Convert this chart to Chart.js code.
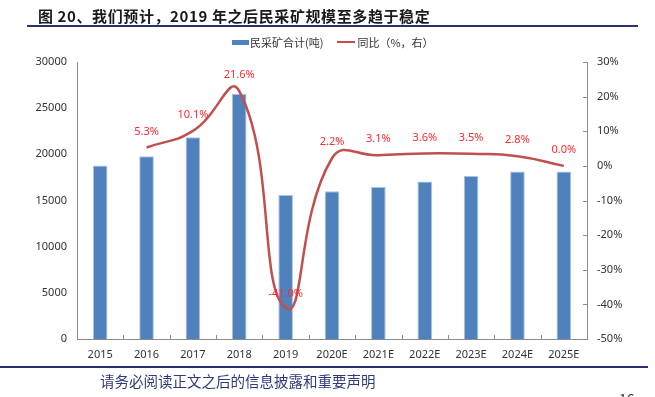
<!DOCTYPE html>
<html>
<head>
<meta charset="utf-8">
<script src="https://cdn.jsdelivr.net/npm/chart.js@4.4.1/dist/chart.umd.min.js"></script>
<style>
  body { margin: 0; background: #fff; }
  #lienzo { position: relative; width: 655px; height: 397px; overflow: hidden; font-family: "Noto Sans CJK SC", "Noto Sans", sans-serif; }
  #grafico { position: absolute; left: 0; top: 0; }
  .titulo { position: absolute; left: 38px; top: 8px; font-size: 15px; line-height: 16px; font-weight: bold; color: #1a1a1a; white-space: nowrap; letter-spacing: 0.6px; }
  .raya-titulo { position: absolute; left: 27px; top: 25px; width: 611px; height: 1.5px; background: #2a3170; }
  .leyenda { position: absolute; left: 232px; top: 34px; font-size: 11px; line-height: 12px; color: #333; white-space: nowrap; }
  .leyenda span { display: inline-block; vertical-align: middle; }
  .caja { width: 17px; height: 5px; background: #4f81bd; margin-right: 1px; }
  .linea { width: 18px; height: 2px; background: #c0504d; margin-left: 14px; margin-right: 2px; }
  .raya-pie { position: absolute; left: 0; top: 366px; width: 648px; height: 2px; background: #2a3170; }
  .pie { position: absolute; left: 100px; top: 373px; font-size: 14.5px; line-height: 16px; color: #2e3a7c; white-space: nowrap; }
  .pagina { position: absolute; left: 619px; top: 390px; font-size: 14px; line-height: 16px; color: #333; }
</style>
</head>
<body>
<div id="lienzo">
  <canvas id="grafico" width="655" height="397"></canvas>
  <div class="titulo">图 20、我们预计，2019 年之后民采矿规模至多趋于稳定</div>
  <div class="raya-titulo"></div>
  <div class="leyenda"><span class="caja"></span><span>民采矿合计(吨)</span><span class="linea"></span><span>同比（%，右）</span></div>
  <div class="raya-pie"></div>
  <div class="pie">请务必阅读正文之后的信息披露和重要声明</div>
  <div class="pagina">16</div>
</div>
<script>
var categorias = ["2015", "2016", "2017", "2018", "2019", "2020E", "2021E", "2022E", "2023E", "2024E", "2025E"];
var toneladas = [18800, 19800, 21850, 26550, 15600, 16000, 16450, 17050, 17650, 18150, 18150];
var tasas = [null, 5.3, 10.1, 21.6, -41.0, 2.2, 3.1, 3.6, 3.5, 2.8, 0.0];

// marcas pequeñas hacia dentro en el eje derecho y en el eje x
var marcasPlugin = {
    id: "marcas",
    afterDraw: function (chart) {
        var ctx = chart.ctx;
        var area = chart.chartArea;
        var y1 = chart.scales.y1;
        var x = chart.scales.x;
        ctx.save();
        ctx.strokeStyle = "#8c8c8c";
        ctx.lineWidth = 1;
        ctx.beginPath();
        y1.ticks.forEach(function (t) {
            var py = Math.round(y1.getPixelForValue(t.value)) + 0.5;
            ctx.moveTo(area.right - 4, py);
            ctx.lineTo(area.right, py);
        });
        for (var i = 1; i < categorias.length; i++) {
            var px = Math.round((x.getPixelForValue(i - 1) + x.getPixelForValue(i)) / 2) + 0.5;
            ctx.moveTo(px, area.bottom);
            ctx.lineTo(px, area.bottom - 4);
        }
        ctx.stroke();
        ctx.restore();
    }
};

// etiquetas rojas sobre la línea
var etiquetasPlugin = {
    id: "etiquetas",
    afterDatasetsDraw: function (chart) {
        var ctx = chart.ctx;
        var meta = chart.getDatasetMeta(0);
        ctx.save();
        ctx.font = "11px 'Noto Sans', sans-serif";
        ctx.fillStyle = "#ff2b2b";
        ctx.textAlign = "center";
        ctx.textBaseline = "middle";
        meta.data.forEach(function (p, i) {
            if (tasas[i] === null) return;
            var dy = tasas[i] < 0 ? 14 : 16;
            ctx.fillText(tasas[i].toFixed(1) + "%", p.x, p.y - dy);
        });
        ctx.restore();
    }
};

var ctx = document.getElementById("grafico").getContext("2d");
var tickFont = { family: "'Noto Sans', sans-serif", size: 11 };

var myChart = new Chart(ctx, {
    data: {
        labels: categorias,
        datasets: [
            {
                type: "line",
                label: "同比（%，右）",
                data: tasas,
                yAxisID: "y1",
                borderColor: "#c0504d",
                borderWidth: 2.5,
                pointRadius: 0,
                tension: 0.5,
                fill: false,
                order: 0
            },
            {
                type: "bar",
                label: "民采矿合计(吨)",
                data: toneladas,
                yAxisID: "y",
                backgroundColor: "#4f81bd",
                borderColor: "#a9c2e2",
                borderWidth: 1,
                categoryPercentage: 1,
                barPercentage: 0.315,
                order: 1
            }
        ]
    },
    options: {
        responsive: false,
        animation: false,
        layout: { padding: { top: 62, left: 0, right: 0, bottom: 0 } },
        plugins: {
            legend: { display: false },
            tooltip: { enabled: false }
        },
        scales: {
            x: {
                grid: { display: false, drawTicks: false },
                border: { color: "#8c8c8c" },
                ticks: { color: "#333", font: tickFont, padding: 9, maxRotation: 0 },
                afterFit: function (s) { s.height = 58; }
            },
            y: {
                position: "left",
                min: 0,
                max: 30000,
                grid: { display: false, drawTicks: false },
                border: { color: "#8c8c8c" },
                ticks: {
                    stepSize: 5000, color: "#333", font: tickFont, padding: 10,
                    callback: function (v) { return String(v); }
                },
                afterFit: function (s) { s.width = 77; }
            },
            y1: {
                position: "right",
                min: -50,
                max: 30,
                grid: { display: false, drawTicks: false },
                border: { color: "#8c8c8c" },
                ticks: {
                    stepSize: 10, color: "#333", font: tickFont, padding: 10,
                    callback: function (v) { return v + "%"; }
                },
                afterFit: function (s) { s.width = 68; }
            }
        }
    },
    plugins: [marcasPlugin, etiquetasPlugin]
});
</script>
</body>
</html>
